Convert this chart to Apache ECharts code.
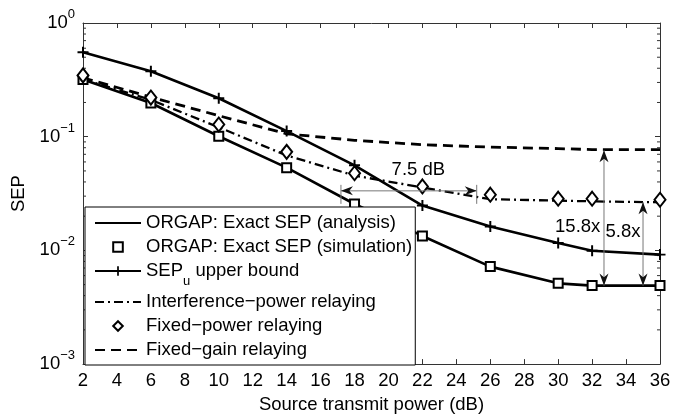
<!DOCTYPE html>
<html><head><meta charset="utf-8">
<script src="https://cdn.jsdelivr.net/npm/echarts@6/dist/echarts.min.js"></script>
<style>html,body{margin:0;padding:0;background:#fff}#c{width:700px;height:419px}</style>
</head><body><div id="c"></div>
<script>
// ---- data ----
const power = [2, 6, 10, 14, 18, 22, 26, 30, 32, 36];
const exactAnalysis   = [0.319, 0.198, 0.101, 0.0534, 0.0256, 0.0134, 0.0072, 0.00513, 0.0049, 0.0049];
const exactSimulation = [0.319, 0.198, 0.101, 0.0534, 0.0256, 0.0134, 0.0072, 0.00513, 0.0049, 0.0049];
const upperBound      = [0.552, 0.377, 0.218, 0.112, 0.056, 0.0248, 0.0162, 0.0116, 0.00994, 0.00918];
const interferencePower = [0.32, 0.211, 0.121, 0.0684, 0.0455, 0.0358, 0.0282, 0.0274, 0.027, 0.0265];
const fixedPower      = [0.346, 0.221, 0.128, 0.0736, 0.0477, 0.0365, 0.0309, 0.0285, 0.0285, 0.0279];
const fixedGain       = [0.33, 0.223, 0.153, 0.106, 0.093, 0.085, 0.081, 0.0786, 0.077, 0.077];

const seriesNames = [
  'ORGAP: Exact SEP (analysis)',
  'ORGAP: Exact SEP (simulation)',
  'SEP_u upper bound',
  'Interference\u2212power relaying',
  'Fixed\u2212power relaying',
  'Fixed\u2212gain relaying'
];
const xMin = 2, xMax = 36, xStep = 2;
const yMin = 0.001, yMax = 1;
const xTitle = 'Source transmit power (dB)';
const yTitle = 'SEP';

// annotations (data coordinates)
const arrowX1 = [17.2, 32.7, 35.0];
const arrowY1 = [0.0334, 0.076, 0.0265];
const arrowX2 = [25.2, 32.7, 35.0];
const arrowY2 = [0.0334, 0.0049, 0.0049];
const noteX = [21.76, 31.15, 33.82];
const noteY = [0.0509, 0.0162, 0.01463];
const noteText = ['7.5 dB', '15.8x', '5.8x'];

// ---- rendering ----
const FONT = '"Liberation Sans", Arial, Helvetica, sans-serif';
const FS = 18.5;
const pair = arr => power.map((x, i) => [x, arr[i]]);

// log minor tick positions (axis decoration)
const minorVals = [];
for (let e = -3; e < 0; e++) for (let m = 2; m <= 9; m++) minorVals.push(m * Math.pow(10, e));

function arrowHead(tip, from) {
  const dx = tip[0] - from[0], dy = tip[1] - from[1];
  const L = Math.hypot(dx, dy) || 1;
  const ux = dx / L, uy = dy / L, px = -uy, py = ux;
  const len = 12, half = 4.5;
  const bx = tip[0] - ux * len, by = tip[1] - uy * len;
  const nx = tip[0] - ux * len * 0.7, ny = tip[1] - uy * len * 0.7;
  return {type: 'polygon', shape: {points: [[tip[0], tip[1]], [bx + px * half, by + py * half], [nx, ny], [bx - px * half, by - py * half]]},
    style: {fill: '#111'}};
}

const plusPath = 'path://M4.1,0H5.9V4.1H10V5.9H5.9V10H4.1V5.9H0V4.1H4.1Z';

const chart = echarts.init(document.getElementById('c'), null, {renderer: 'canvas'});
chart.setOption({
  animation: false,
  backgroundColor: '#fff',
  textStyle: {fontFamily: FONT},
  grid: {left: 83, right: 40, top: 23, bottom: 51},
  xAxis: [{
    type: 'value', min: xMin, max: xMax, interval: xStep,
    name: xTitle, nameLocation: 'middle', nameGap: 23,
    nameTextStyle: {fontSize: FS, color: '#000', fontFamily: FONT},
    axisLine: {show: true, onZero: false, lineStyle: {color: '#333', width: 1}},
    axisTick: {show: true, inside: true, length: 5, lineStyle: {color: '#333'}},
    axisLabel: {fontSize: FS, color: '#000', margin: 7, fontFamily: FONT},
    splitLine: {show: false}
  }, {
    type: 'value', min: xMin, max: xMax, interval: xStep, position: 'top',
    axisLine: {show: true, onZero: false, lineStyle: {color: '#333', width: 1}},
    axisTick: {show: true, inside: true, length: 5, lineStyle: {color: '#333'}},
    axisLabel: {show: false}, splitLine: {show: false}
  }],
  yAxis: [{
    type: 'log', logBase: 10, min: yMin, max: yMax, splitNumber: 3,
    name: yTitle, nameLocation: 'middle', nameGap: 50,
    nameTextStyle: {fontSize: FS, color: '#000', fontFamily: FONT},
    axisLine: {show: true, onZero: false, lineStyle: {color: '#333', width: 1}},
    axisTick: {show: true, inside: true, length: 5, lineStyle: {color: '#333'}},
    axisLabel: {
      margin: 8, color: '#000',
      formatter: v => { const e = Math.round(Math.log10(v)); return '{b|10}{sup|' + (e < 0 ? '\u2212' + (-e) : e) + '}'; },
      rich: {
        b: {fontSize: FS, lineHeight: 30, color: '#000', fontFamily: FONT},
        sup: {fontSize: 13, lineHeight: 10, verticalAlign: 'top', color: '#000', fontFamily: FONT}
      }
    },
    splitLine: {show: false}
  }, {
    type: 'log', logBase: 10, min: yMin, max: yMax, splitNumber: 3, position: 'right',
    axisLine: {show: true, onZero: false, lineStyle: {color: '#333', width: 1}},
    axisTick: {show: true, inside: true, length: 5, lineStyle: {color: '#333'}},
    axisLabel: {show: false}, splitLine: {show: false}
  }],
  legend: {
    orient: 'vertical', left: 85, top: 207, padding: [6, 3, 5, 9], itemGap: 4,
    itemWidth: 46, itemHeight: 12, backgroundColor: '#fff', borderColor: '#000', borderWidth: 1, borderRadius: 0,
    selectedMode: false, z: 10,
    textStyle: {
      fontSize: FS, lineHeight: 20, color: '#000', fontFamily: FONT,
      rich: {
        b: {fontSize: FS, lineHeight: 20, verticalAlign: 'top', color: '#000', fontFamily: FONT},
        sub: {fontSize: 13, lineHeight: 13, padding: [14, 0, 0, 0], verticalAlign: 'top', color: '#000', fontFamily: FONT}
      }
    },
    formatter: name => name === seriesNames[2] ? '{b|SEP}{sub|u}{b| upper bound}' : name,
    data: [
      {name: seriesNames[0], itemStyle: {opacity: 0}},
      {name: seriesNames[1], lineStyle: {opacity: 0}},
      {name: seriesNames[2]},
      {name: seriesNames[3], itemStyle: {opacity: 0}},
      {name: seriesNames[4], lineStyle: {opacity: 0}},
      {name: seriesNames[5], itemStyle: {opacity: 0}}
    ]
  },
  series: [
    {name: seriesNames[5], type: 'line', data: pair(fixedGain), symbol: 'none',
      lineStyle: {color: '#000', width: 2.8, type: [10, 6]}, itemStyle: {color: '#000'}, z: 2},
    {name: seriesNames[3], type: 'line', data: pair(interferencePower), symbol: 'none',
      lineStyle: {color: '#000', width: 2.3, type: [9, 4, 2, 4]}, itemStyle: {color: '#000'}, z: 2},
    {name: seriesNames[0], type: 'line', data: pair(exactAnalysis), symbol: 'none',
      lineStyle: {color: '#000', width: 2.6}, itemStyle: {color: '#000'}, z: 3},
    {name: seriesNames[2], type: 'line', data: pair(upperBound), symbol: plusPath, symbolSize: 11, showSymbol: true,
      lineStyle: {color: '#000', width: 2.6}, itemStyle: {color: '#000'}, z: 3},
    {name: seriesNames[1], type: 'line', data: pair(exactSimulation), symbol: 'emptyRect', symbolSize: 9,
      lineStyle: {opacity: 0, width: 0}, itemStyle: {color: '#000', borderColor: '#000', borderWidth: 2.5}, z: 4},
    {name: seriesNames[4], type: 'line', data: pair(fixedPower), symbol: 'emptyDiamond', symbolSize: [11, 14],
      lineStyle: {opacity: 0, width: 0}, itemStyle: {color: '#000', borderColor: '#000', borderWidth: 2.6}, z: 4},
    // log minor ticks on left and right frame
    {type: 'custom', silent: true, z: 1, data: minorVals.map(v => [xMin, v]), encode: {x: 0, y: 1},
      renderItem: (params, api) => {
        const v = api.value(1);
        const l = api.coord([xMin, v]), r = api.coord([xMax, v]);
        return {type: 'group', children: [
          {type: 'line', shape: {x1: l[0], y1: l[1], x2: l[0] + 3, y2: l[1]}, style: {stroke: '#333', lineWidth: 1}},
          {type: 'line', shape: {x1: r[0], y1: r[1], x2: r[0] - 3, y2: r[1]}, style: {stroke: '#333', lineWidth: 1}}
        ]};
      }},
    // annotation arrows
    {type: 'custom', silent: true, z: 6, data: arrowX1.map((x, i) => [x, arrowY1[i], arrowX2[i], arrowY2[i]]),
      encode: {x: [0, 2], y: [1, 3]},
      renderItem: (params, api) => {
        const a = api.coord([api.value(0), api.value(1)]);
        const b = api.coord([api.value(2), api.value(3)]);
        const ch = [
          {type: 'line', shape: {x1: a[0], y1: a[1], x2: b[0], y2: b[1]}, style: {stroke: '#777', lineWidth: 1}},
          arrowHead(a, b), arrowHead(b, a)
        ];
        if (Math.abs(a[1] - b[1]) < 0.5) {
          [a, b].forEach(p => ch.push({type: 'line', shape: {x1: p[0], y1: p[1] - 6, x2: p[0], y2: p[1] + 13}, style: {stroke: '#777', lineWidth: 1}}));
        }
        return {type: 'group', children: ch};
      }},
    // annotation texts
    {type: 'custom', silent: true, z: 6, data: noteX.map((x, i) => [x, noteY[i]]), encode: {x: 0, y: 1},
      renderItem: (params, api) => {
        const c = api.coord([api.value(0), api.value(1)]);
        return {type: 'text', x: c[0], y: c[1], style: {text: noteText[params.dataIndex], fontSize: FS, fill: '#000',
          align: 'center', verticalAlign: 'middle', fontFamily: FONT}};
      }}
  ]
});
</script>
</body></html>
